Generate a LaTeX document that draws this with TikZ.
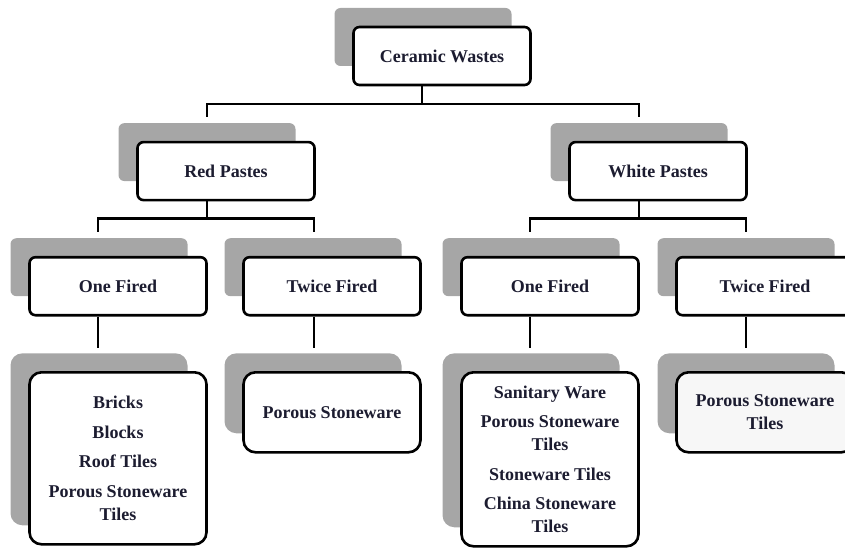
\documentclass[tikz,border=0pt]{standalone}
\usepackage{fontspec}
\setmainfont{Liberation Serif}
\usetikzlibrary{positioning,shadows}
\definecolor{shgray}{RGB}{166,166,166}
\definecolor{txt}{RGB}{28,28,48}
\tikzstyle{tierbox} = [rectangle, rounded corners=6pt, minimum width=177pt, minimum height=58pt, align=center, draw=black, line width=2.6pt, fill=white, text=txt, font=\bfseries\fontsize{18}{23}\selectfont, general shadow={fill=shgray, shadow xshift=-19pt, shadow yshift=19pt}]
\tikzstyle{listbox} = [tierbox, rounded corners=12pt]
\tikzstyle{conn} = [line width=2.3pt, draw=black]

\begin{document}
\begin{tikzpicture}[x=1pt, y=1pt, node distance=54.5pt]
\useasboundingbox (0,0) rectangle (845,547);
\clip (0,0) rectangle (845,547);

\node (cw) [tierbox] at (442,491) {Ceramic Wastes};
\node (rp) [tierbox, below=of cw, xshift=-216pt] {Red Pastes};
\node (wp) [tierbox, below=of cw, xshift=216pt] {White Pastes};
\node (rpone) [tierbox, below=of rp, xshift=-108pt] {One Fired};
\node (rptwice) [tierbox, below=of rp, xshift=106pt] {Twice Fired};
\node (wpone) [tierbox, below=of wp, xshift=-108pt] {One Fired};
\node (wptwice) [tierbox, below=of wp, xshift=107pt] {Twice Fired};
\node (rponelist) [listbox, minimum height=172pt, below=of rpone] {Bricks\\[6.5pt]Blocks\\[6.5pt]Roof Tiles\\[6.5pt]Porous Stoneware\\Tiles};
\node (rptwicelist) [listbox, minimum height=80pt, below=of rptwice] {Porous Stoneware};
\node (wponelist) [listbox, minimum height=174pt, below=of wpone] {Sanitary Ware\\[6.5pt]Porous Stoneware\\Tiles\\[6.5pt]Stoneware Tiles\\[6.5pt]China Stoneware\\Tiles};
\node (wptwicelist) [listbox, minimum height=80pt, fill=gray!6, below=of wptwice] {Porous Stoneware\\Tiles};

\draw [conn] ([xshift=-20pt]cw.south) -- ++(0,-18) coordinate (cwj);
\draw [conn] (cwj) -| ([shift={(-19pt,24pt)}]rp.north);
\draw [conn] (cwj) -| ([shift={(-19pt,24pt)}]wp.north);
\draw [conn] ([xshift=-19pt]rp.south) -- ++(0,-17) coordinate (rpj);
\draw [conn] (rpj) -| ([shift={(-20pt,24pt)}]rpone.north);
\draw [conn] (rpj) -| ([shift={(-18pt,24pt)}]rptwice.north);
\draw [conn] ([xshift=-19pt]wp.south) -- ++(0,-17) coordinate (wpj);
\draw [conn] (wpj) -| ([shift={(-20pt,24pt)}]wpone.north);
\draw [conn] (wpj) -| ([shift={(-19pt,24pt)}]wptwice.north);
\draw [conn] ([xshift=-20pt]rpone.south) -- ([shift={(-20pt,23pt)}]rponelist.north);
\draw [conn] ([xshift=-18pt]rptwice.south) -- ([shift={(-18pt,23pt)}]rptwicelist.north);
\draw [conn] ([xshift=-20pt]wpone.south) -- ([shift={(-20pt,23pt)}]wponelist.north);
\draw [conn] ([xshift=-19pt]wptwice.south) -- ([shift={(-19pt,23pt)}]wptwicelist.north);

\end{tikzpicture}
\end{document}
